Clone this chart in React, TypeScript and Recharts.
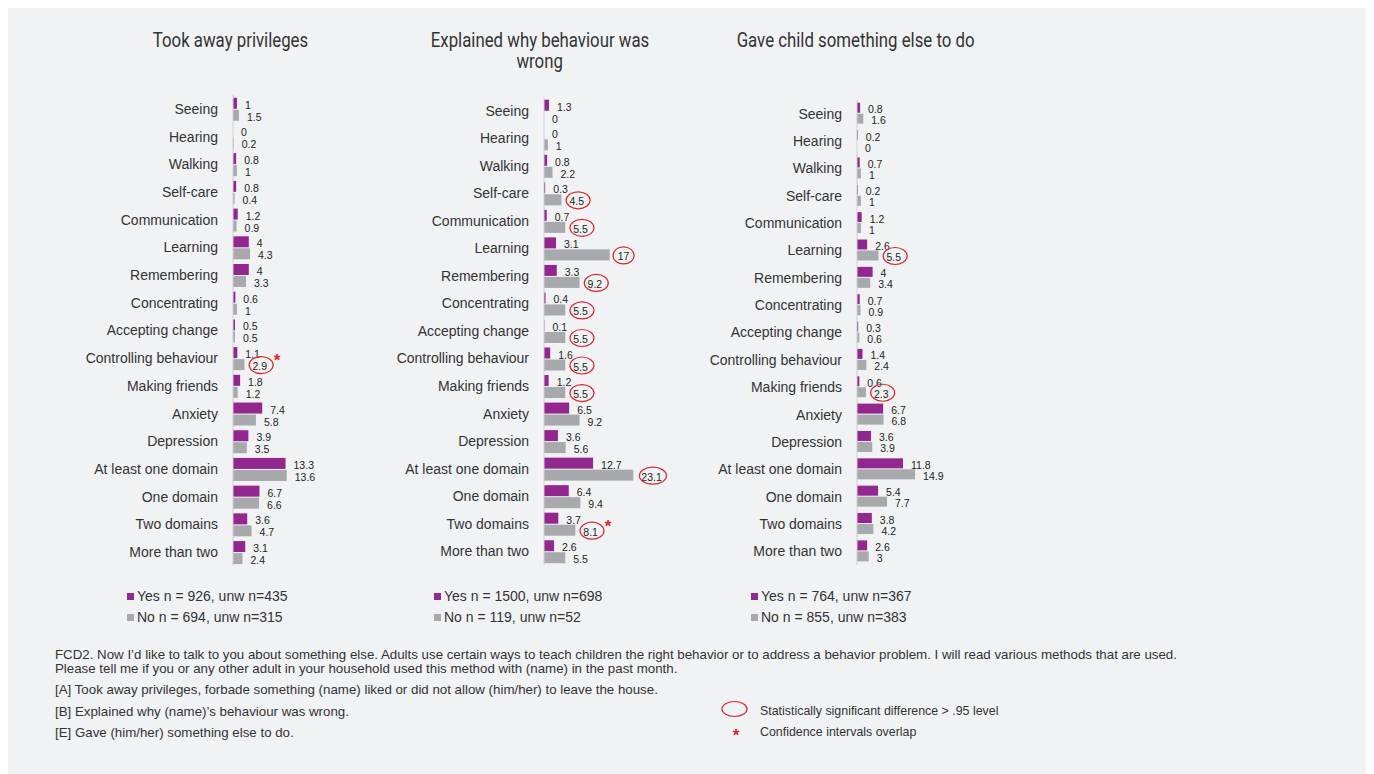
import React, { useLayoutEffect } from "react";
import { Bar, BarChart, XAxis, YAxis } from "recharts";

const categories = [
  "Seeing",
  "Hearing",
  "Walking",
  "Self-care",
  "Communication",
  "Learning",
  "Remembering",
  "Concentrating",
  "Accepting change",
  "Controlling behaviour",
  "Making friends",
  "Anxiety",
  "Depression",
  "At least one domain",
  "One domain",
  "Two domains",
  "More than two",
];

const privilegesYes = [1, 0, 0.8, 0.8, 1.2, 4, 4, 0.6, 0.5, 1.1, 1.8, 7.4, 3.9, 13.3, 6.7, 3.6, 3.1];
const privilegesNo = [1.5, 0.2, 1, 0.4, 0.9, 4.3, 3.3, 1, 0.5, 2.9, 1.2, 5.8, 3.5, 13.6, 6.6, 4.7, 2.4];
const explainedYes = [1.3, 0, 0.8, 0.3, 0.7, 3.1, 3.3, 0.4, 0.1, 1.6, 1.2, 6.5, 3.6, 12.7, 6.4, 3.7, 2.6];
const explainedNo = [0, 1, 2.2, 4.5, 5.5, 17, 9.2, 5.5, 5.5, 5.5, 5.5, 9.2, 5.6, 23.1, 9.4, 8.1, 5.5];
const gaveYes = [0.8, 0.2, 0.7, 0.2, 1.2, 2.6, 4, 0.7, 0.3, 1.4, 0.6, 6.7, 3.6, 11.8, 5.4, 3.8, 2.6];
const gaveNo = [1.6, 0, 1, 1, 1, 5.5, 3.4, 0.9, 0.6, 2.4, 2.3, 6.8, 3.9, 14.9, 7.7, 4.2, 3];

// circled = significant difference, overlap = red asterisk
const privilegesCircled = ["Controlling behaviour"];
const privilegesOverlap = ["Controlling behaviour"];
const explainedCircled = [
  "Self-care",
  "Communication",
  "Learning",
  "Remembering",
  "Concentrating",
  "Accepting change",
  "Controlling behaviour",
  "Making friends",
  "At least one domain",
  "Two domains",
];
const explainedOverlap = ["Two domains"];
const gaveCircled = ["Learning", "Making friends"];
const gaveOverlap: string[] = [];

const PURPLE = "#92278f";
const GREY = "#a7a9ac";
const RED = "#d9262e";
const TEXT = "#333333";
const FONT = '"Liberation Sans", Arial, sans-serif';
const TITLE_FONT = 'Roboto, "Open Sans", sans-serif';

const rows = (yes: number[], no: number[]) => categories.map((name, i) => ({ name, yes: yes[i], no: no[i] }));

function makeShape(key: "yes" | "no", circled: string[], overlap: string[]) {
  return (props: any) => {
    const { x, y, width, height, payload, fill } = props;
    const value = payload[key];
    const label = String(value);
    const lx = x + Math.max(width, 0) + 8;
    const ly = y + height / 2 + 1.5;
    const isCircled = key === "no" && circled.includes(payload.name);
    const isOverlap = key === "no" && overlap.includes(payload.name);
    const cx = lx + label.length * 2.9;
    const cy = ly - 1;
    const rx = 12 + (label.length - 3) * 1.5;
    const ry = 8.5;
    return (
      <g>
        {width > 0 && <rect x={x} y={y} width={width} height={height} fill={fill} />}
        <text x={lx} y={ly} dominantBaseline="central" fontSize={10.5} fill="#231f20" fontFamily={FONT}>
          {label}
        </text>
        {isCircled && <ellipse cx={cx} cy={cy} rx={rx} ry={ry} fill="none" stroke={RED} strokeWidth={1.2} />}
        {isOverlap && (
          <text
            x={cx + rx + 4}
            y={cy - ry + 4}
            textAnchor="middle"
            dominantBaseline="central"
            fontSize={17}
            fontWeight="bold"
            fill={RED}
            fontFamily={FONT}
          >
            *
          </text>
        )}
      </g>
    );
  };
}

type PanelProps = {
  title: string[];
  titleX: number;
  yes: number[];
  no: number[];
  circled: string[];
  overlap: string[];
  axisX: number;
  plotTop: number;
  plotH: number;
  plotW: number;
  yesLegend: string;
  noLegend: string;
  legendX: number;
};

const AXIS_W = 150;
const OFF = 8; // body margin

function Panel(p: PanelProps) {
  const data = rows(p.yes, p.no);
  const marginTop = 10;
  const marginRight = 40;
  return (
    <>
      {p.title.map((line, i) => (
        <div
          key={line}
          style={{
            position: "absolute",
            left: p.titleX - OFF - 160,
            top: 40 - OFF - 10.5 + i * 21,
            width: 320,
            height: 21,
            textAlign: "center",
            fontFamily: TITLE_FONT,
            fontWeight: 400,
            fontSize: 20,
            lineHeight: "21px",
            color: TEXT,
          }}
        >
          <span style={{ display: "inline-block", transform: "scaleX(0.84)", whiteSpace: "nowrap" }}>{line}</span>
        </div>
      ))}
      <div style={{ position: "absolute", left: p.axisX - OFF - AXIS_W, top: p.plotTop - OFF - marginTop }}>
        <BarChart
          width={AXIS_W + p.plotW + marginRight}
          height={marginTop + p.plotH + 5}
          data={data}
          layout="vertical"
          margin={{ top: marginTop, right: marginRight, bottom: 5, left: 0 }}
          barCategoryGap="10%"
          barGap={1}
        >
          <XAxis type="number" domain={[0, 30]} hide />
          <YAxis
            type="category"
            dataKey="name"
            width={AXIS_W}
            tickLine={false}
            tickSize={0}
            tickMargin={15}
            axisLine={{ stroke: "#cfd0d2" }}
            interval={0}
            tick={{ fill: TEXT, fontSize: 14, fontFamily: FONT }}
          />
          <Bar dataKey="yes" fill={PURPLE} isAnimationActive={false} shape={makeShape("yes", p.circled, p.overlap)} />
          <Bar dataKey="no" fill={GREY} isAnimationActive={false} shape={makeShape("no", p.circled, p.overlap)} />
        </BarChart>
      </div>
      {[
        { text: p.yesLegend, color: PURPLE, y: 596 },
        { text: p.noLegend, color: GREY, y: 617 },
      ].map((l) => (
        <div
          key={l.text}
          style={{
            position: "absolute",
            left: p.legendX - OFF,
            top: l.y - OFF - 9,
            height: 18,
            display: "flex",
            alignItems: "center",
            fontFamily: FONT,
            fontSize: 14,
            color: TEXT,
            whiteSpace: "nowrap",
          }}
        >
          <span style={{ display: "inline-block", width: 7, height: 7, background: l.color, marginRight: 3 }} />
          {l.text}
        </div>
      ))}
    </>
  );
}

const footStyle: React.CSSProperties = {
  position: "absolute",
  left: 55 - OFF,
  fontFamily: FONT,
  fontSize: 13.3,
  lineHeight: "14px",
  color: TEXT,
  whiteSpace: "nowrap",
};

export default function App() {
  useLayoutEffect(() => {
    document.documentElement.style.overflow = "hidden";
  }, []);

  return (
    <div style={{ position: "relative", width: 1380, height: 780, background: "#f1f2f4", overflow: "hidden" }}>
      <Panel
        title={["Took away privileges"]}
        titleX={230}
        yes={privilegesYes}
        no={privilegesNo}
        circled={privilegesCircled}
        overlap={privilegesOverlap}
        axisX={233}
        plotTop={95}
        plotH={471}
        plotW={118.5}
        yesLegend="Yes n = 926, unw n=435"
        noLegend="No n = 694, unw n=315"
        legendX={127}
      />
      <Panel
        title={["Explained why behaviour was", "wrong"]}
        titleX={540}
        yes={explainedYes}
        no={explainedNo}
        circled={explainedCircled}
        overlap={explainedOverlap}
        axisX={544}
        plotTop={97}
        plotH={468}
        plotW={116}
        yesLegend="Yes n = 1500, unw n=698"
        noLegend="No n = 119, unw n=52"
        legendX={434}
      />
      <Panel
        title={["Gave child something else to do"]}
        titleX={856}
        yes={gaveYes}
        no={gaveNo}
        circled={gaveCircled}
        overlap={gaveOverlap}
        axisX={857}
        plotTop={99.5}
        plotH={465}
        plotW={117}
        yesLegend="Yes n = 764, unw n=367"
        noLegend="No n = 855, unw n=383"
        legendX={751}
      />

      <div style={{ ...footStyle, top: 655 - OFF - 7 }}>
        FCD2. Now I’d like to talk to you about something else. Adults use certain ways to teach children the right
        behavior or to address a behavior problem. I will read various methods that are used.
        <br />
        Please tell me if you or any other adult in your household used this method with (name) in the past month.
      </div>
      <div style={{ ...footStyle, top: 690 - OFF - 7 }}>
        [A] Took away privileges, forbade something (name) liked or did not allow (him/her) to leave the house.
      </div>
      <div style={{ ...footStyle, top: 712 - OFF - 7 }}>[B] Explained why (name)’s behaviour was wrong.</div>
      <div style={{ ...footStyle, top: 733 - OFF - 7 }}>[E] Gave (him/her) something else to do.</div>

      <svg style={{ position: "absolute", left: 715 - OFF, top: 698 - OFF }} width={40} height={45}>
        <ellipse cx={19.5} cy={11} rx={12.5} ry={7.5} fill="none" stroke={RED} strokeWidth={1.2} />
        <text x={21} y={37} textAnchor="middle" dominantBaseline="central" fontSize={17} fontWeight="bold" fill={RED} fontFamily={FONT}>
          *
        </text>
      </svg>
      <div style={{ ...footStyle, left: 760 - OFF, top: 711 - OFF - 7, fontSize: 12.4 }}>
        Statistically significant difference &gt; .95 level
      </div>
      <div style={{ ...footStyle, left: 760 - OFF, top: 732 - OFF - 7, fontSize: 12.4 }}>Confidence intervals overlap</div>
    </div>
  );
}
